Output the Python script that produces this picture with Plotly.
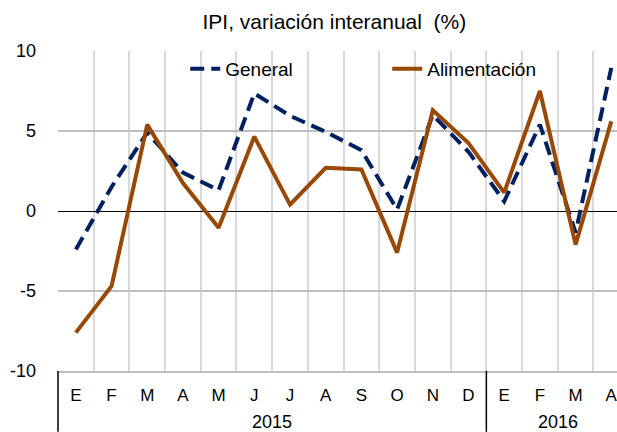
import plotly.graph_objects as go

years = ['2015'] * 12 + ['2016'] * 4
months = ['E', 'F', 'M', 'A', 'M', 'J', 'J', 'A', 'S', 'O', 'N', 'D',
          'E', 'F', 'M', 'A']

general = [-2.4, 1.5, 4.9, 2.4, 1.3, 7.35, 5.95, 4.95, 3.8, 0.1, 6.0, 3.7,
           0.6, 5.4, -1.35, 8.95]
alimentacion = [-7.6, -4.7, 5.4, 1.75, -1.05, 4.65, 0.4, 2.7, 2.6, -2.6, 6.3, 4.25,
                1.15, 7.5, -2.1, 5.6]

y_ticks = [-10, -5, 0, 5, 10]
y_labels = ['-10', '-5', '0', '5', '10']

idx = list(range(len(months)))

fig = go.Figure()
fig.add_trace(go.Scatter(x=idx, y=general, name='General', mode='lines',
                         line=dict(color='#002060', width=4, dash='14px,7px')))
fig.add_trace(go.Scatter(x=idx, y=alimentacion, name='Alimentación', mode='lines',
                         line=dict(color='#984807', width=4)))

# year labels under the months and black dividers between the years
for yr in sorted(set(years)):
    pos = [i for i, v in enumerate(years) if v == yr]
    fig.add_annotation(x=sum(pos) / len(pos), y=-0.159, xref='x', yref='paper',
                       text=yr, showarrow=False, yanchor='middle',
                       font=dict(size=18, color='black'))
    fig.add_shape(type='line', xref='x', yref='paper', x0=pos[-1] + 0.5, x1=pos[-1] + 0.5,
                  y0=0, y1=-0.19, line=dict(color='black', width=1.5))
fig.add_shape(type='line', xref='paper', yref='paper', x0=0, x1=0, y0=0, y1=-0.19,
              line=dict(color='black', width=1.5))

fig.update_layout(
    template='plotly_white',
    width=617, height=432,
    margin=dict(l=58, r=0, t=51, b=61),
    paper_bgcolor='white', plot_bgcolor='white',
    font=dict(family='Liberation Sans, Arial, sans-serif', size=17, color='black'),
    title=dict(text='IPI, variación interanual  (%)', x=0.542, xref='container',
               xanchor='center', y=0.949, yanchor='middle',
               font=dict(size=21, color='black')),
    showlegend=True,
    legend=dict(orientation='h', x=0.2276, xanchor='left', y=0.944, yanchor='middle',
                bgcolor='rgba(0,0,0,0)', font=dict(size=19),
                entrywidth=157, entrywidthmode='pixels'),
)
fig.update_xaxes(range=[-0.5, 15.16], automargin=False,
                 tickvals=idx, ticktext=months, ticks='', ticklabelstandoff=8,
                 ticklabeloverflow='allow',
                 showgrid=False,
                 minor=dict(tick0=-0.5, dtick=1, showgrid=True,
                            gridcolor='#d9d9d9', gridwidth=1.5),
                 showline=True, linecolor='#bfbfbf', linewidth=1.5,
                 zeroline=False, tickfont=dict(size=17))
fig.update_yaxes(range=[-10, 10], tickvals=y_ticks, ticktext=y_labels,
                 automargin=False, showgrid=True,
                 gridcolor='#bfbfbf', gridwidth=1.5,
                 zeroline=True, zerolinecolor='black', zerolinewidth=1.2,
                 showline=False, ticks='', ticklabelstandoff=21,
                 tickfont=dict(size=18))

# drop the default 8px page margin so the figure fills the window exactly
fig.write_html('out.html', config={'displayModeBar': False},
               post_script="document.body.style.margin='0';"
                           "document.body.style.overflow='hidden';")
